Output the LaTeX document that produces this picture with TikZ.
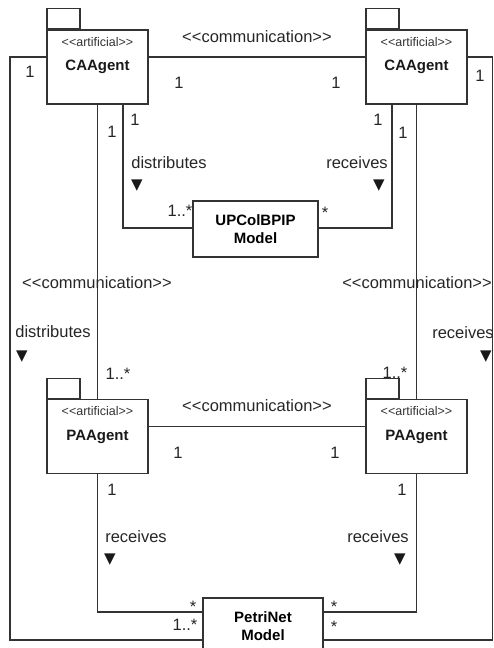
\documentclass[tikz,border=0pt]{standalone}
\usepackage{fontspec}
\setmainfont{Liberation Sans}[Ligatures=TeXOff]
\newfontfamily\symfont{DejaVu Sans}
\usetikzlibrary{positioning}
\tikzset{
  agent/.style = {rectangle, draw=black!80, line width=1.1pt,
    minimum width=101pt, minimum height=74pt, inner sep=0pt},% agent box
  agtab/.style = {rectangle, draw=black!80, line width=1.1pt, anchor=south west,
    minimum width=33pt, minimum height=20pt, inner sep=0pt},% tab on the box
  model/.style = {rectangle, draw=black!80, line width=1.1pt, fill=white,
    minimum height=56pt, align=center, inner sep=0pt,
    font=\fontsize{15}{17.5}\selectfont\bfseries},% model box
  stereo/.style = {inner sep=0pt, text=black!80,
    font=\fontsize{12.5}{14}\selectfont},
  aname/.style = {inner sep=0pt, text=black!90,
    font=\fontsize{15}{17}\selectfont\bfseries},
  lbl/.style = {inner sep=0pt, text height=11.8pt, text depth=0pt, text=black!85,
    font=\fontsize{16.5}{19}\selectfont},% role and multiplicity
  tri/.style = {inner sep=0pt, text=black!90,
    font=\symfont\fontsize{15}{17}\selectfont},% direction mark
  conn/.style = {draw=black!80, line width=1.1pt}
}

\begin{document}
\begin{tikzpicture}[x=1pt,y=-1pt]
\clip (0,0) rectangle (494,648);

% agents
\node [agent] (caL) at (97.5,67) {};
\node [agtab] (caLtab) at (caL.north west) {};
\node [stereo] (caLst) at ([yshift=-13pt]caL.north) {<<artificial>>};
\node [aname] (caLnm) at (caL.center) {CAAgent};

\node [agent] (caR) at (416.5,67) {};
\node [agtab] (caRtab) at (caR.north west) {};
\node [stereo] (caRst) at ([yshift=-13pt]caR.north) {<<artificial>>};
\node [aname] (caRnm) at (caR.center) {CAAgent};

\node [agent] (paL) at (97.5,436.5) {};
\node [agtab] (paLtab) at (paL.north west) {};
\node [stereo] (paLst) at ([yshift=-12.5pt]paL.north) {<<artificial>>};
\node [aname] (paLnm) at (paL.center) {PAAgent};

\node [agent] (paR) at (416.5,436.5) {};
\node [agtab] (paRtab) at (paR.north west) {};
\node [stereo] (paRst) at ([yshift=-12.5pt]paR.north) {<<artificial>>};
\node [aname] (paRnm) at (paR.center) {PAAgent};

% models
\node [model, minimum width=125pt] (upc) at (255.5,229) {UPColBPIP\\Model};
\node [model, minimum width=120pt] (petri) at (263,626) {PetriNet\\Model};

\coordinate (cBL) at (10,640);
\coordinate (cBR) at (492.5,640);

% connectors
\draw [conn] ([yshift=10pt]caL.east) -- ([yshift=10pt]caR.west);
\draw [conn] ([yshift=10pt]paL.east) -- ([yshift=10pt]paR.west);
\draw [conn] ([yshift=10pt]caL.west) -| (cBL) -- ([yshift=-14pt]petri.west);
\draw [conn] ([yshift=10pt]caR.east) -| (cBR) -- ([yshift=-14pt]petri.east);
\draw [conn] ([xshift=25.5pt]caL.south) |- ([yshift=1pt]upc.west);
\draw [conn] ([xshift=-24.5pt]caR.south) |- ([yshift=1pt]upc.east);
\draw [conn] (caL.south) -- (paL.north);
\draw [conn] (caR.south) -- (paR.north);
\draw [conn] (paL.south) |- ([yshift=14pt]petri.west);
\draw [conn] (paR.south) |- ([yshift=14pt]petri.east);

% stereotypes on links
\node [lbl] (commTop) at (257,37) {<<communication>>};
\node [lbl] (commL) at (97,283) {<<communication>>};
\node [lbl] (commR) at (417,283) {<<communication>>};
\node [lbl] (commPA) at (257,406) {<<communication>>};

% roles
\node [lbl] (rDistA) at (169,163) {distributes};
\node [tri] (tDistA) at (137,186) {▼};
\node [lbl] (rRecA) at (357,163) {receives};
\node [tri] (tRecA) at (379,186) {▼};
\node [lbl] (rDistB) at (53,332) {distributes};
\node [tri] (tDistB) at (22,357) {▼};
\node [lbl] (rRecB) at (463,333) {receives};
\node [tri] (tRecB) at (486,357) {▼};
\node [lbl] (rRecC) at (136,537) {receives};
\node [tri] (tRecC) at (110,560) {▼};
\node [lbl] (rRecD) at (378,537) {receives};
\node [tri] (tRecD) at (400,560) {▼};

% multiplicities
\node [lbl] (m1) at (30,72) {1};
\node [lbl] (m2) at (179,83) {1};
\node [lbl] (m3) at (336,83) {1};
\node [lbl] (m4) at (480,76) {1};
\node [lbl] (m5) at (112,132) {1};
\node [lbl] (m6) at (135,120) {1};
\node [lbl] (m7) at (378,120) {1};
\node [lbl] (m8) at (403,133) {1};
\node [lbl] (m9) at (180,211) {1..*};
\node [lbl] (m10) at (325,213) {*};
\node [lbl] (m11) at (118,374) {1..*};
\node [lbl] (m12) at (395,373) {1..*};
\node [lbl] (m13) at (178,453) {1};
\node [lbl] (m14) at (335,453) {1};
\node [lbl] (m15) at (112,490) {1};
\node [lbl] (m16) at (402,490) {1};
\node [lbl] (m17) at (193,607) {*};
\node [lbl] (m18) at (185,625) {1..*};
\node [lbl] (m19) at (334,607) {*};
\node [lbl] (m20) at (334,627) {*};
\end{tikzpicture}
\end{document}
